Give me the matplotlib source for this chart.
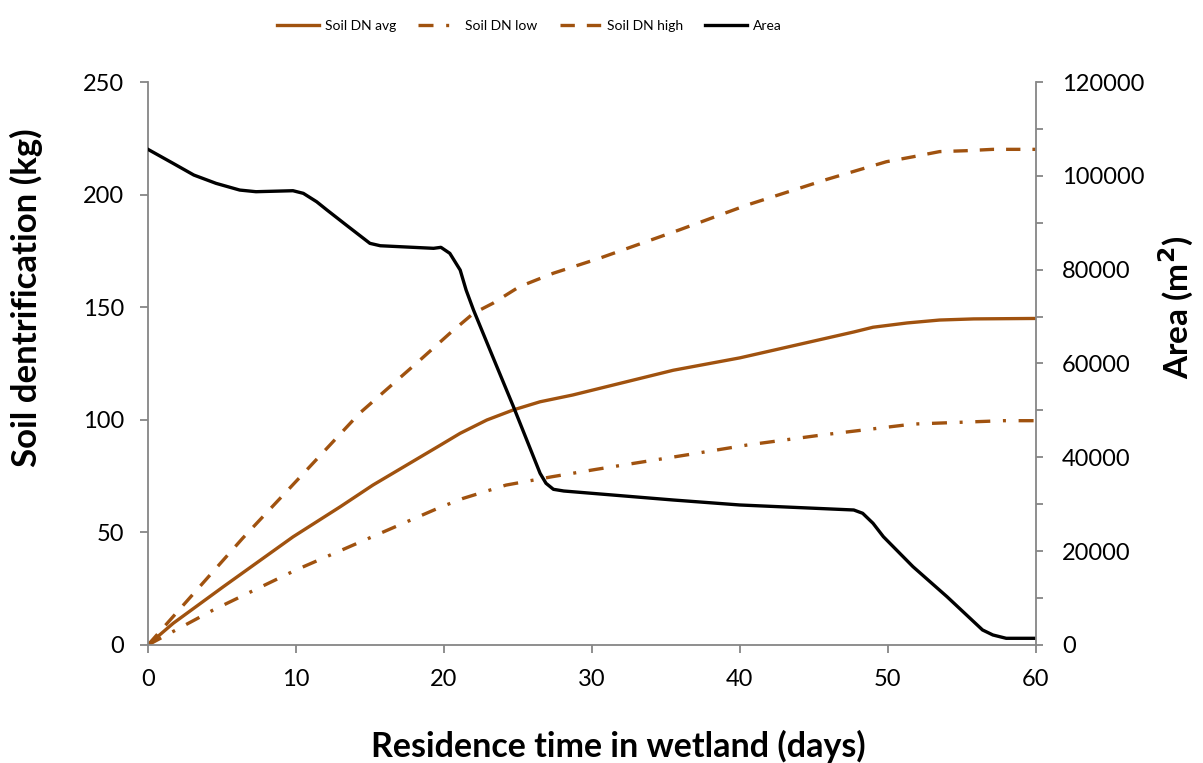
import matplotlib.pyplot as plt
from matplotlib.ticker import MultipleLocator

plt.rcParams['font.family'] = ['Lato', 'DejaVu Sans']

# Soil denitrification (kg) vs residence time (days)
t_avg = [0, 1.7, 5.1, 9.8, 13.0, 15.2, 19.7, 21.1, 22.9, 24.7, 26.5, 28.7, 35.5, 40.0,
         47.7, 49.0, 51.3, 53.5, 55.8, 60]
dn_avg = [0, 9.6, 25.9, 48, 61.4, 71, 88.5, 94.0, 99.9, 104.4, 108, 111, 122, 127.5,
          139, 141.1, 143, 144.3, 144.8, 145]

t_high = [0, 6.4, 10.3, 14.3, 18.4, 20.4, 22.0, 23.3, 25.1, 27.4, 30.5, 35.9, 40.5, 45.9,
          49.9, 51.7, 53.5, 55.3, 57.1, 60]
dn_high = [0, 47.4, 74.7, 102.9, 126.6, 138.4, 147.3, 151.7, 159.1, 165.1, 171.7, 184.3,
           195.4, 206.8, 214.6, 216.8, 219.1, 219.5, 220.1, 220.1]

t_low = [0, 4.4, 10.0, 15.7, 19.7, 21.3, 24.2, 27.3, 30.3, 36.4, 40.5, 45.6, 51.7, 57.8, 60]
dn_low = [0, 15.5, 33.3, 49.6, 61, 65.1, 71, 74.7, 78, 84.4, 88.8, 93.3, 98.1, 99.6, 99.6]

# Area (m2)
t_area = [0, 1.7, 3.1, 4.6, 6.2, 7.3, 9.8, 10.5, 11.4, 12.1, 13.4, 15.0, 15.7, 19.3, 19.8,
          20.4, 21.1, 21.5, 22.0, 23.3, 24.7, 26.5, 26.9, 27.4, 28.1, 35.5, 40.0, 47.7,
          48.3, 49.0, 49.7, 51.7, 54.0, 56.4, 57.1, 58.0, 60]
area = [105650, 102660, 100170, 98400, 96970, 96620, 96830, 96270, 94480, 92710, 89510,
        85610, 85100, 84550, 84760, 83480, 79920, 75660, 71400, 61450, 50790, 36590, 34460,
        33180, 32820, 30900, 29840, 28770, 28070, 25940, 23080, 16690, 10290, 3200, 2130,
        1420, 1420]

brown = '#A0520F'
grey = '#868686'

fig = plt.figure(figsize=(12.03, 7.63), dpi=100)
ax = fig.add_axes([0.123, 0.1547, 0.738, 0.7378])
ax2 = ax.twinx()

lw = 2.4
l1, = ax.plot(t_avg, dn_avg, color=brown, lw=lw, label='Soil DN avg')
l2, = ax.plot(t_low, dn_low, color=brown, lw=lw, linestyle=(0, (4.5, 3.8, 0.9, 3.8)),
              label='Soil DN low')
l3, = ax.plot(t_high, dn_high, color=brown, lw=lw, linestyle=(0, (4.3, 3.6)),
              label='Soil DN high')
l4, = ax2.plot(t_area, area, color='black', lw=lw, label='Area')

ax.set_xlim(0, 60)
ax.set_ylim(0, 250)
ax2.set_ylim(0, 120000)
ax.xaxis.set_major_locator(MultipleLocator(10))
ax.yaxis.set_major_locator(MultipleLocator(50))
ax2.yaxis.set_major_locator(MultipleLocator(20000))
ax2.yaxis.set_minor_locator(MultipleLocator(10000))

for a in (ax, ax2):
    a.spines['top'].set_visible(False)
    for s in ('left', 'right', 'bottom'):
        a.spines[s].set_color(grey)
        a.spines[s].set_linewidth(1.3)
ax.spines['right'].set_visible(False)
ax2.spines['left'].set_visible(False)
ax2.spines['bottom'].set_visible(False)

ax.tick_params(axis='x', direction='out', length=6, width=1.3, color=grey,
               labelsize=17, pad=11)
ax.tick_params(axis='y', direction='out', length=6, width=1.3, color=grey,
               labelsize=17, pad=11)
ax2.tick_params(axis='y', which='both', direction='out', length=5, width=1.3, color=grey,
                labelsize=17, pad=14)

ax.set_xlabel('Residence time in wetland (days)', fontsize=24.5, fontweight='bold')
ax.set_ylabel('Soil dentrification (kg)', fontsize=25, fontweight='bold')
ax2.set_ylabel('Area (m$^\\mathbf{2}$)', fontsize=24, fontweight='bold')
ax.xaxis.set_label_coords(0.53, -0.151)
ax.yaxis.set_label_coords(-0.118, 0.617)
ax2.yaxis.set_label_coords(1.136, 0.60)

fig.legend(handles=[l1, l2, l3, l4], loc='upper center', bbox_to_anchor=(0.44, 0.99),
           ncol=4, frameon=False, fontsize=10, handlelength=3, columnspacing=1.6,
           handletextpad=0.4)

fig.savefig('out.png', dpi=100)
